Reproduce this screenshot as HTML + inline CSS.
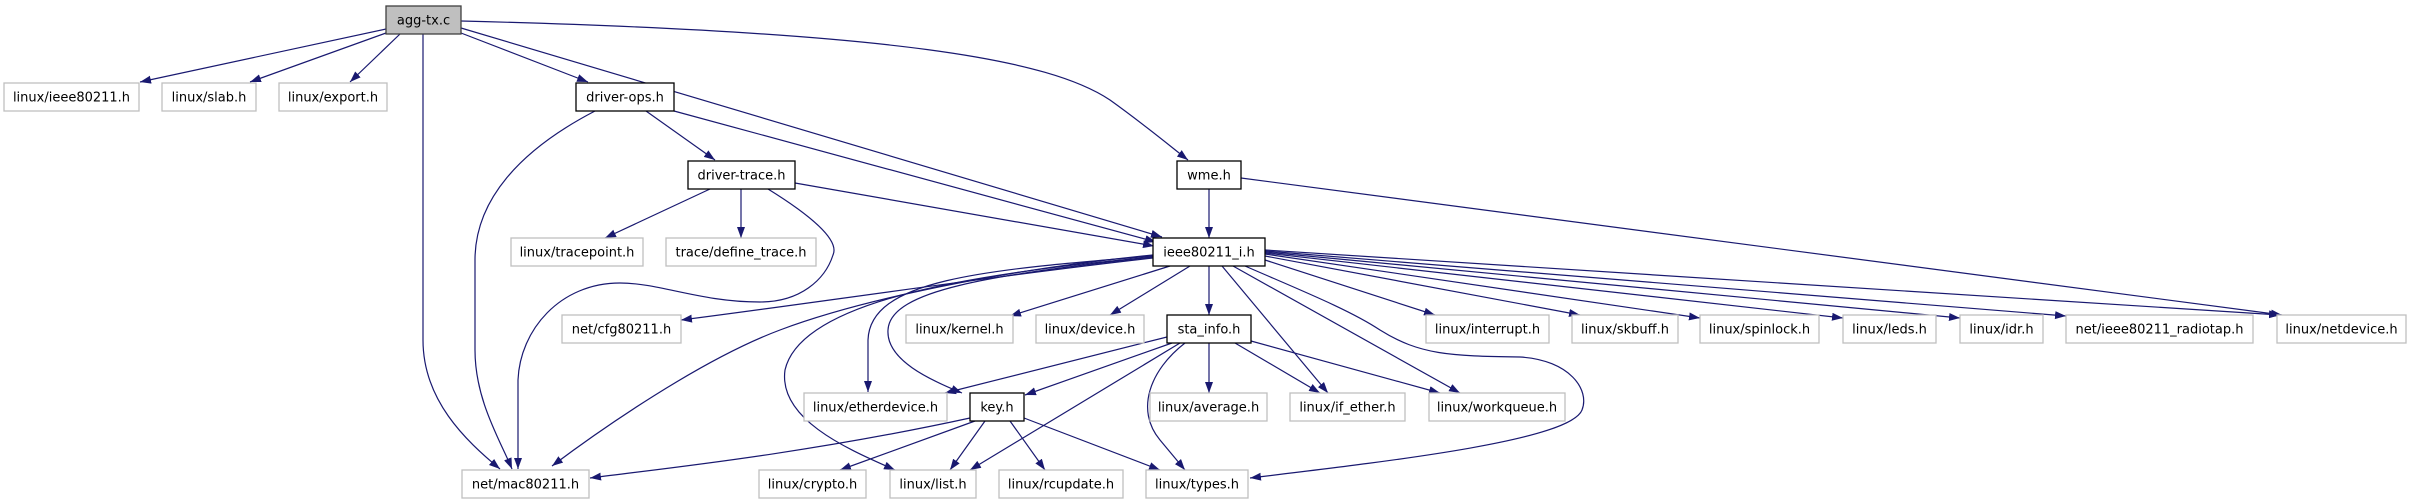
<!DOCTYPE html>
<html><head><meta charset="utf-8"><style>
html,body{margin:0;padding:0;background:#fff;}
svg{display:block}
text{font-family:"DejaVu Sans","Liberation Sans",sans-serif;font-size:13px;fill:#000;}
.e{fill:#fff;stroke:#bfbfbf;stroke-width:1.3}
.i{fill:#fff;stroke:#000;stroke-width:1.3}
path.l{fill:none;stroke:#191970;stroke-width:1.2;marker-end:url(#a)}
</style></head><body>
<svg width="2411" height="504" viewBox="0 0 2411 504" xmlns="http://www.w3.org/2000/svg">
<defs><marker id="a" markerUnits="userSpaceOnUse" markerWidth="12" markerHeight="9" refX="11" refY="4" orient="auto"><path d="M0,0 L11,4 L0,8 z" fill="#191970"/></marker></defs>
<g>
<path class="l" d="M386,29 L140,82"/>
<path class="l" d="M386,33 L250,82"/>
<path class="l" d="M400,34 L350,82"/>
<path class="l" d="M461,33 L588,82"/>
<path class="l" d="M461,28 L1162,237"/>
<path class="l" d="M461,21 C900,32 1050,60 1110,100 C1145,125 1175,150 1188,160"/>
<path class="l" d="M423,34 L423,340 C423,400 465,440 500,469"/>
<path class="l" d="M595,111 C520,150 475,200 475,260 L475,350 C475,400 500,440 512,469"/>
<path class="l" d="M646,111 L715,160"/>
<path class="l" d="M674,111 L1156,242"/>
<path class="l" d="M741,189 L741,238"/>
<path class="l" d="M710,189 L605,238"/>
<path class="l" d="M795,183 L1154,246"/>
<path class="l" d="M768,189 C810,215 840,240 833,255 C825,280 800,302 760,302 C700,302 660,283 620,283 C560,283 520,330 518,380 L518,469"/>
<path class="l" d="M1209,189 L1209,238"/>
<path class="l" d="M1241,178 L2282,315"/>
<path class="l" d="M1153,258 C1000,275 800,305 681,320"/>
<path class="l" d="M1153,255 C1000,270 860,300 780,330 C700,360 600,430 552,466"/>
<path class="l" d="M1153,256 C980,270 870,280 868,340 L868,392"/>
<path class="l" d="M1153,257 C990,275 890,290 888,330 C886,360 930,380 962,393"/>
<path class="l" d="M1153,257 C950,275 800,305 785,370 C778,420 850,450 895,470"/>
<path class="l" d="M1170,266 L1010,316"/>
<path class="l" d="M1190,266 L1110,315"/>
<path class="l" d="M1209,266 L1209,315"/>
<path class="l" d="M1222,266 L1328,393"/>
<path class="l" d="M1233,266 L1460,393"/>
<path class="l" d="M1245,266 C1300,290 1350,310 1380,330 C1420,355 1450,356 1520,357 C1570,360 1590,390 1582,410 C1570,440 1400,460 1250,478"/>
<path class="l" d="M1265,260 L1435,315"/>
<path class="l" d="M1265,256 L1580,315"/>
<path class="l" d="M1265,254 L1700,318"/>
<path class="l" d="M1265,253 L1843,318"/>
<path class="l" d="M1265,252 L1960,318"/>
<path class="l" d="M1265,251 L2066,316"/>
<path class="l" d="M1265,250 L2280,315"/>
<path class="l" d="M1167,337 L945,393"/>
<path class="l" d="M1172,343 L1025,395"/>
<path class="l" d="M1180,343 L970,470"/>
<path class="l" d="M1185,343 C1150,370 1135,410 1160,440 L1185,470"/>
<path class="l" d="M1209,343 L1209,393"/>
<path class="l" d="M1235,343 L1320,393"/>
<path class="l" d="M1251,341 L1440,393"/>
<path class="l" d="M970,418 C800,455 650,470 590,478"/>
<path class="l" d="M975,421 L840,470"/>
<path class="l" d="M985,421 L950,470"/>
<path class="l" d="M1010,421 L1045,470"/>
<path class="l" d="M1024,418 L1160,470"/>
</g>
<g text-anchor="middle">
<rect x="386" y="6" width="75" height="28" fill="#bfbfbf" stroke="#404040" stroke-width="1.3"/><text x="423.5" y="24.5">agg-tx.c</text>
<rect class="e" x="4" y="83" width="135" height="28"/><text x="71.5" y="101.5">linux/ieee80211.h</text>
<rect class="e" x="162" y="83" width="94" height="28"/><text x="209" y="101.5">linux/slab.h</text>
<rect class="e" x="279" y="83" width="108" height="28"/><text x="333" y="101.5">linux/export.h</text>
<rect class="i" x="576" y="83" width="98" height="28"/><text x="625" y="101.5">driver-ops.h</text>
<rect class="i" x="688" y="161" width="107" height="28"/><text x="741.5" y="179.5">driver-trace.h</text>
<rect class="i" x="1177" y="161" width="64" height="28"/><text x="1209" y="179.5">wme.h</text>
<rect class="e" x="511" y="238" width="132" height="28"/><text x="577" y="256.5">linux/tracepoint.h</text>
<rect class="e" x="666" y="238" width="150" height="28"/><text x="741" y="256.5">trace/define_trace.h</text>
<rect class="i" x="1153" y="238" width="112" height="28"/><text x="1209" y="256.5">ieee80211_i.h</text>
<rect class="e" x="562" y="315" width="119" height="28"/><text x="621.5" y="333.5">net/cfg80211.h</text>
<rect class="e" x="906" y="315" width="107" height="28"/><text x="959.5" y="333.5">linux/kernel.h</text>
<rect class="e" x="1036" y="315" width="108" height="28"/><text x="1090" y="333.5">linux/device.h</text>
<rect class="i" x="1167" y="315" width="84" height="28"/><text x="1209" y="333.5">sta_info.h</text>
<rect class="e" x="1426" y="315" width="123" height="28"/><text x="1487.5" y="333.5">linux/interrupt.h</text>
<rect class="e" x="1572" y="315" width="106" height="28"/><text x="1625" y="333.5">linux/skbuff.h</text>
<rect class="e" x="1700" y="315" width="119" height="28"/><text x="1759.5" y="333.5">linux/spinlock.h</text>
<rect class="e" x="1843" y="315" width="93" height="28"/><text x="1889.5" y="333.5">linux/leds.h</text>
<rect class="e" x="1960" y="315" width="83" height="28"/><text x="2001.5" y="333.5">linux/idr.h</text>
<rect class="e" x="2066" y="315" width="187" height="28"/><text x="2159.5" y="333.5">net/ieee80211_radiotap.h</text>
<rect class="e" x="2277" y="315" width="129" height="28"/><text x="2341.5" y="333.5">linux/netdevice.h</text>
<rect class="e" x="804" y="393" width="143" height="28"/><text x="875.5" y="411.5">linux/etherdevice.h</text>
<rect class="i" x="970" y="393" width="54" height="28"/><text x="997" y="411.5">key.h</text>
<rect class="e" x="1150" y="393" width="117" height="28"/><text x="1208.5" y="411.5">linux/average.h</text>
<rect class="e" x="1290" y="393" width="115" height="28"/><text x="1347.5" y="411.5">linux/if_ether.h</text>
<rect class="e" x="1429" y="393" width="136" height="28"/><text x="1497" y="411.5">linux/workqueue.h</text>
<rect class="e" x="462" y="470" width="127" height="28"/><text x="525.5" y="488.5">net/mac80211.h</text>
<rect class="e" x="759" y="470" width="107" height="28"/><text x="812.5" y="488.5">linux/crypto.h</text>
<rect class="e" x="890" y="470" width="86" height="28"/><text x="933" y="488.5">linux/list.h</text>
<rect class="e" x="999" y="470" width="124" height="28"/><text x="1061" y="488.5">linux/rcupdate.h</text>
<rect class="e" x="1146" y="470" width="102" height="28"/><text x="1197" y="488.5">linux/types.h</text>
</g>
</svg>
</body></html>
